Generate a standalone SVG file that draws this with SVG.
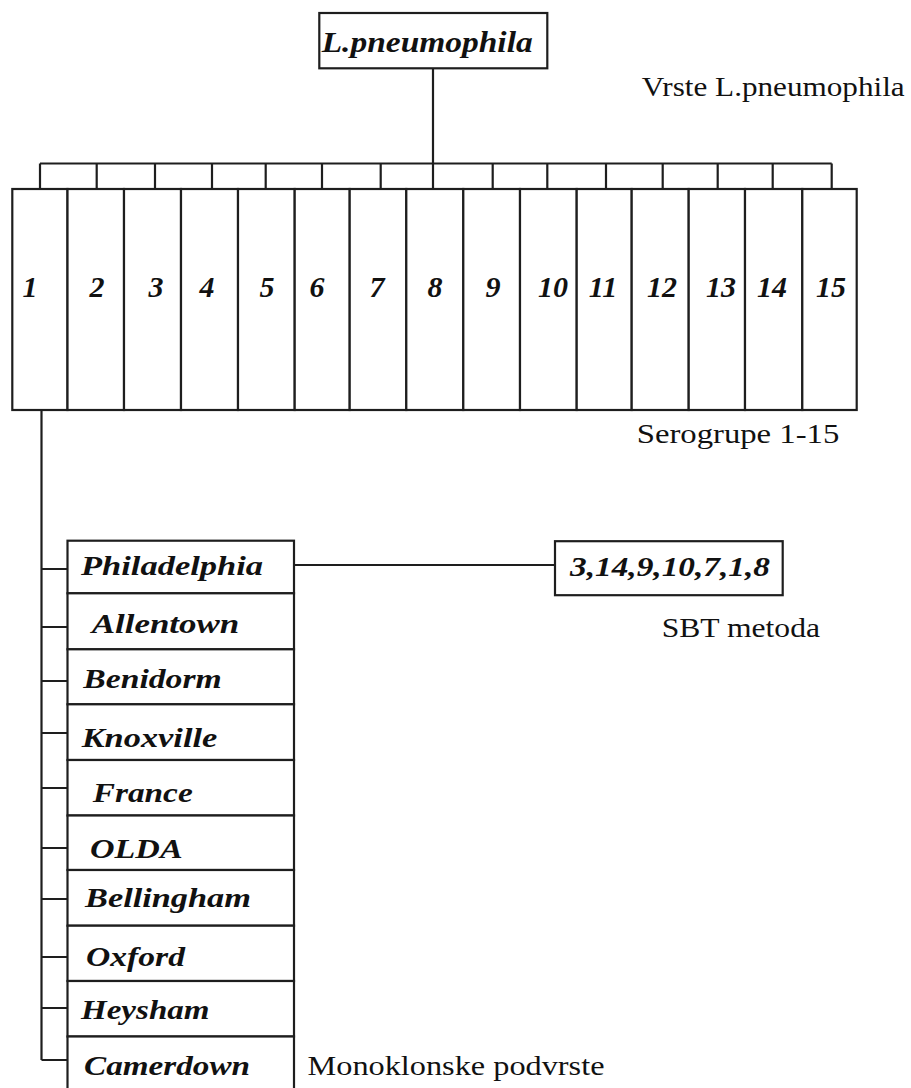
<svg xmlns="http://www.w3.org/2000/svg" width="911" height="1088" viewBox="0 0 911 1088">
<style>
.box{fill:#fff;stroke:#1e1e1e;stroke-width:2.2}
.ln{fill:none;stroke:#1e1e1e;stroke-width:2.2}
text{font-family:'Liberation Serif','Times New Roman',Times,serif}
.nt{font-weight:bold;font-style:italic;fill:#111}
.lb{fill:#111}
.num{font-size:30px;text-anchor:middle}
.row{font-size:27.5px}
</style>
<rect width="911" height="1088" fill="#fff"/>
<g id="connectors">
<path class="ln" d="M433 68V163.5M40 163.5H831.7M40 163.5V189M96.7 163.5V189M155 163.5V189M212 163.5V189M265.7 163.5V189M322 163.5V189M380.7 163.5V189M433 163.5V189M492.7 163.5V189M547.3 163.5V189M606 163.5V189M662.7 163.5V189M717.7 163.5V189M772.7 163.5V189M831.7 163.5V189"/>
<path class="ln" d="M41.5 410V1060M41.5 569H67.5M41.5 627H67.5M41.5 681H67.5M41.5 733H67.5M41.5 788H67.5M41.5 848H67.5M41.5 899H67.5M41.5 957H67.5M41.5 1008H67.5M41.5 1060H67.5"/>
<path class="ln" d="M294 565H555"/>
</g>
<g id="root"><rect class="box" x="319.3" y="13" width="228" height="55.3"/><text class="nt" x="321.7" y="52" font-size="29.5" textLength="211" lengthAdjust="spacingAndGlyphs">L.pneumophila</text></g>
<text class="lb" x="641.7" y="96" font-size="27" textLength="263" lengthAdjust="spacingAndGlyphs">Vrste L.pneumophila</text>
<g id="sg1"><rect class="box" x="12.3" y="189" width="55.2" height="221"/><text class="nt num" x="30" y="297">1</text></g>
<g id="sg2"><rect class="box" x="67.5" y="189" width="56.5" height="221"/><text class="nt num" x="97" y="297">2</text></g>
<g id="sg3"><rect class="box" x="124" y="189" width="57" height="221"/><text class="nt num" x="156" y="297">3</text></g>
<g id="sg4"><rect class="box" x="181" y="189" width="57" height="221"/><text class="nt num" x="207" y="297">4</text></g>
<g id="sg5"><rect class="box" x="238" y="189" width="56.7" height="221"/><text class="nt num" x="267" y="297">5</text></g>
<g id="sg6"><rect class="box" x="294.7" y="189" width="55" height="221"/><text class="nt num" x="317" y="297">6</text></g>
<g id="sg7"><rect class="box" x="349.7" y="189" width="56.6" height="221"/><text class="nt num" x="377" y="297">7</text></g>
<g id="sg8"><rect class="box" x="406.3" y="189" width="57" height="221"/><text class="nt num" x="435" y="297">8</text></g>
<g id="sg9"><rect class="box" x="463.3" y="189" width="56.7" height="221"/><text class="nt num" x="493" y="297">9</text></g>
<g id="sg10"><rect class="box" x="520" y="189" width="56.7" height="221"/><text class="nt num" x="553" y="297">10</text></g>
<g id="sg11"><rect class="box" x="576.7" y="189" width="55" height="221"/><text class="nt num" x="603" y="297">11</text></g>
<g id="sg12"><rect class="box" x="631.7" y="189" width="57" height="221"/><text class="nt num" x="662" y="297">12</text></g>
<g id="sg13"><rect class="box" x="688.7" y="189" width="56.3" height="221"/><text class="nt num" x="721" y="297">13</text></g>
<g id="sg14"><rect class="box" x="745" y="189" width="57.3" height="221"/><text class="nt num" x="772" y="297">14</text></g>
<g id="sg15"><rect class="box" x="802.3" y="189" width="54.4" height="221"/><text class="nt num" x="831" y="297">15</text></g>
<text class="lb" x="636.7" y="443.3" font-size="27" textLength="202.6" lengthAdjust="spacingAndGlyphs">Serogrupe 1-15</text>
<g id="philadelphia"><rect class="box" x="67.5" y="540.7" width="226.5" height="52.6"/><text class="nt row" x="81" y="575" textLength="182" lengthAdjust="spacingAndGlyphs">Philadelphia</text></g>
<g id="allentown"><rect class="box" x="67.5" y="593.3" width="226.5" height="56"/><text class="nt row" x="91.7" y="633" textLength="147.6" lengthAdjust="spacingAndGlyphs">Allentown</text></g>
<g id="benidorm"><rect class="box" x="67.5" y="649.3" width="226.5" height="55"/><text class="nt row" x="83.3" y="688" textLength="138.4" lengthAdjust="spacingAndGlyphs">Benidorm</text></g>
<g id="knoxville"><rect class="box" x="67.5" y="704.3" width="226.5" height="55.7"/><text class="nt row" x="81.7" y="746.7" textLength="135.6" lengthAdjust="spacingAndGlyphs">Knoxville</text></g>
<g id="france"><rect class="box" x="67.5" y="760" width="226.5" height="55.5"/><text class="nt row" x="92.7" y="801.7" textLength="100" lengthAdjust="spacingAndGlyphs">France</text></g>
<g id="olda"><rect class="box" x="67.5" y="815.5" width="226.5" height="54.5"/><text class="nt row" x="90" y="858" textLength="92.6" lengthAdjust="spacingAndGlyphs">OLDA</text></g>
<g id="bellingham"><rect class="box" x="67.5" y="870" width="226.5" height="55.7"/><text class="nt row" x="85" y="907" textLength="166" lengthAdjust="spacingAndGlyphs">Bellingham</text></g>
<g id="oxford"><rect class="box" x="67.5" y="925.7" width="226.5" height="55.3"/><text class="nt row" x="86" y="965.7" textLength="99" lengthAdjust="spacingAndGlyphs">Oxford</text></g>
<g id="heysham"><rect class="box" x="67.5" y="981" width="226.5" height="55.5"/><text class="nt row" x="81" y="1019" textLength="128.5" lengthAdjust="spacingAndGlyphs">Heysham</text></g>
<g id="camerdown"><rect class="box" x="67.5" y="1036.5" width="226.5" height="60"/><text class="nt row" x="84" y="1075" textLength="166" lengthAdjust="spacingAndGlyphs">Camerdown</text></g>
<text class="lb" x="307.5" y="1075" font-size="27" textLength="297" lengthAdjust="spacingAndGlyphs">Monoklonske podvrste</text>
<g id="sbt"><rect class="box" x="555" y="541.2" width="227.7" height="54"/><text class="nt" x="570" y="576" font-size="27" textLength="200" lengthAdjust="spacingAndGlyphs">3,14,9,10,7,1,8</text></g>
<text class="lb" x="661.7" y="636.7" font-size="27" textLength="158.3" lengthAdjust="spacingAndGlyphs">SBT metoda</text>
</svg>
